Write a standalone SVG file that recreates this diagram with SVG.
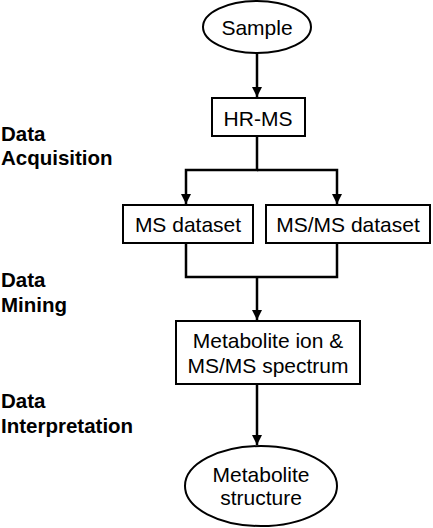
<svg xmlns="http://www.w3.org/2000/svg" width="433" height="528" viewBox="0 0 433 528">
<defs>
<style>
.shape{fill:#fff;stroke:#000;stroke-width:2}
.t{font-family:"Liberation Sans",Arial,sans-serif;font-size:21px;fill:#000;text-anchor:middle}
.lab{font-family:"Liberation Sans",Arial,sans-serif;font-size:20.5px;font-weight:bold;fill:#000}
.c{fill:none;stroke:#000;stroke-width:2.5}
</style>
<marker id="ah" viewBox="0 0 10 10" refX="10" refY="5" markerWidth="4" markerHeight="4" markerUnits="strokeWidth" orient="auto">
<path d="M0,0 L10,5 L0,10 z" fill="#000"/>
</marker>
</defs>
<rect width="433" height="528" fill="#fff"/>
<g id="labels">
<text class="lab" x="1" y="141">Data</text>
<text class="lab" x="1" y="165">Acquisition</text>
<text class="lab" x="1" y="287">Data</text>
<text class="lab" x="1" y="312">Mining</text>
<text class="lab" x="1" y="408">Data</text>
<text class="lab" x="1" y="433">Interpretation</text>
</g>
<g id="connectors">
<line class="c" x1="257" y1="53" x2="257" y2="97" marker-end="url(#ah)"/>
<polyline class="c" points="257,136 257,170 186,170 186,204" marker-end="url(#ah)"/>
<polyline class="c" points="257,170 337,170 337,204" marker-end="url(#ah)"/>
<polyline class="c" points="186,243 186,277 337,277 337,243"/>
<line class="c" x1="257" y1="277" x2="257" y2="320" marker-end="url(#ah)"/>
<line class="c" x1="257" y1="384" x2="257" y2="445" marker-end="url(#ah)"/>
</g>
<g id="sample">
<ellipse class="shape" cx="257" cy="27" rx="54" ry="26"/>
<text class="t" x="257" y="35">Sample</text>
</g>
<g id="hrms">
<rect class="shape" x="212" y="98" width="93" height="38"/>
<text class="t" x="258" y="126">HR-MS</text>
</g>
<g id="ms-dataset">
<rect class="shape" x="123" y="205" width="130" height="38"/>
<text class="t" x="188" y="232">MS dataset</text>
</g>
<g id="msms-dataset">
<rect class="shape" x="266" y="205" width="164" height="38"/>
<text class="t" x="348" y="232">MS/MS dataset</text>
</g>
<g id="metabolite-ion">
<rect class="shape" x="176" y="321" width="184" height="63"/>
<text class="t" x="268" y="348">Metabolite ion &amp;</text>
<text class="t" x="268" y="373">MS/MS spectrum</text>
</g>
<g id="metabolite-structure">
<ellipse class="shape" cx="261" cy="486" rx="76" ry="40"/>
<text class="t" x="261" y="482">Metabolite</text>
<text class="t" x="261" y="505">structure</text>
</g>
</svg>
